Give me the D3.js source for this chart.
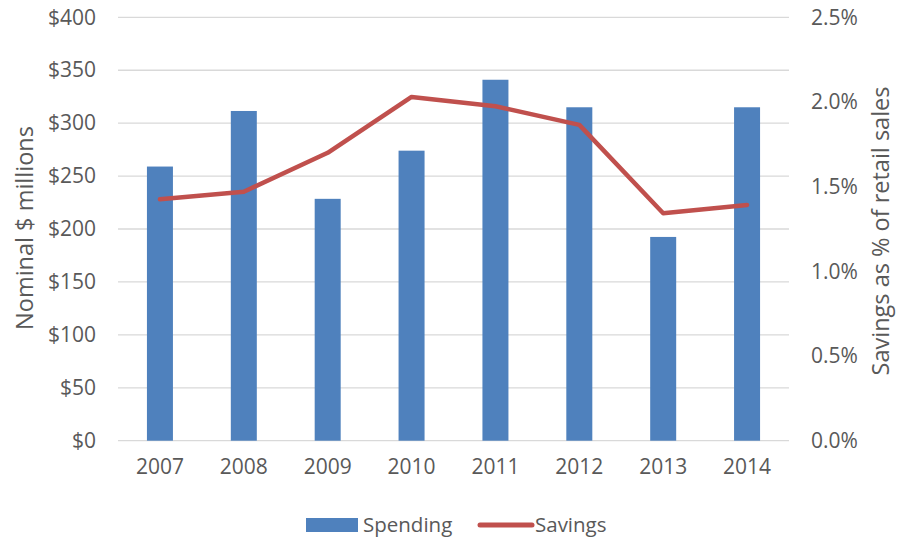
<!DOCTYPE html>
<html><head><meta charset="utf-8">
<script src="https://cdn.jsdelivr.net/npm/d3@7"></script>
<style>body{margin:0;background:#fff}svg text{font-family:"Open Sans",sans-serif;fill:#595959}</style>
</head><body>
<svg id="c" width="898" height="540"></svg>
<script>
const years = ["2007","2008","2009","2010","2011","2012","2013","2014"];
const spending = [259, 311.5, 228.5, 274, 341, 315, 192.5, 315];
const savings = [1.425, 1.47, 1.70, 2.03, 1.975, 1.865, 1.343, 1.392];
const leftTicks = [0,50,100,150,200,250,300,350,400];
const rightTicks = [0,0.5,1.0,1.5,2.0,2.5];

const svg = d3.select("#c");
const L = 118, R = 789, T = 17.3, B = 440.7;
const x = d3.scaleBand().domain(years).range([L, R]).paddingInner(0.69).paddingOuter(0.345);
const y = d3.scaleLinear().domain([0,400]).range([B, T]);
const y2 = d3.scaleLinear().domain([0,2.5]).range([B, T]);

// gridlines
svg.append("g").selectAll("line").data(leftTicks).join("line")
  .attr("x1", L).attr("x2", R).attr("y1", d=>y(d)).attr("y2", d=>y(d))
  .attr("stroke", "#d9d9d9").attr("stroke-width", 1.3);

// left axis
const la = svg.append("g").attr("transform", `translate(${L},0)`)
  .call(d3.axisLeft(y).tickValues(leftTicks).tickSize(0).tickPadding(22).tickFormat(d=>"$"+d));
la.select(".domain").remove();
la.selectAll("text").style("font-size","21px");

// right axis
const ra = svg.append("g").attr("transform", `translate(${R},0)`)
  .call(d3.axisRight(y2).tickValues(rightTicks).tickSize(0).tickPadding(22).tickFormat(d=>d.toFixed(1)+"%"));
ra.select(".domain").remove();
ra.selectAll("text").style("font-size","21px");

// x axis
const xa = svg.append("g").attr("transform", `translate(0,${B})`)
  .call(d3.axisBottom(x).tickSize(0).tickPadding(18));
xa.select(".domain").remove();
xa.selectAll("text").style("font-size","21px");

// bars
svg.append("g").selectAll("rect").data(spending).join("rect")
  .attr("x", (d,i)=>x(years[i])).attr("width", x.bandwidth())
  .attr("y", d=>y(d)).attr("height", d=>B - y(d))
  .attr("fill", "#4F81BD");

// line
const line = d3.line().x((d,i)=>x(years[i]) + x.bandwidth()/2).y(d=>y2(d));
svg.append("path").datum(savings).attr("d", line)
  .attr("fill","none").attr("stroke","#C0504D").attr("stroke-width",4.5)
  .attr("stroke-linejoin","round").attr("stroke-linecap","round");

// axis titles
svg.append("text").attr("transform","translate(33,228) rotate(-90)")
  .attr("text-anchor","middle").style("font-size","23.5px").text("Nominal $ millions");
svg.append("text").attr("transform","translate(889,231) rotate(-90)")
  .attr("text-anchor","middle").style("font-size","23.5px").text("Savings as % of retail sales");

// legend
const lg = svg.append("g");
lg.append("rect").attr("x",306).attr("y",518).attr("width",52).attr("height",14).attr("fill","#4F81BD");
lg.append("text").attr("x",363).attr("y",532).style("font-size","20.5px").text("Spending");
lg.append("line").attr("x1",480).attr("x2",532).attr("y1",525).attr("y2",525)
  .attr("stroke","#C0504D").attr("stroke-width",5).attr("stroke-linecap","round");
lg.append("text").attr("x",535).attr("y",532).style("font-size","20.5px").text("Savings");
</script>
</body></html>
